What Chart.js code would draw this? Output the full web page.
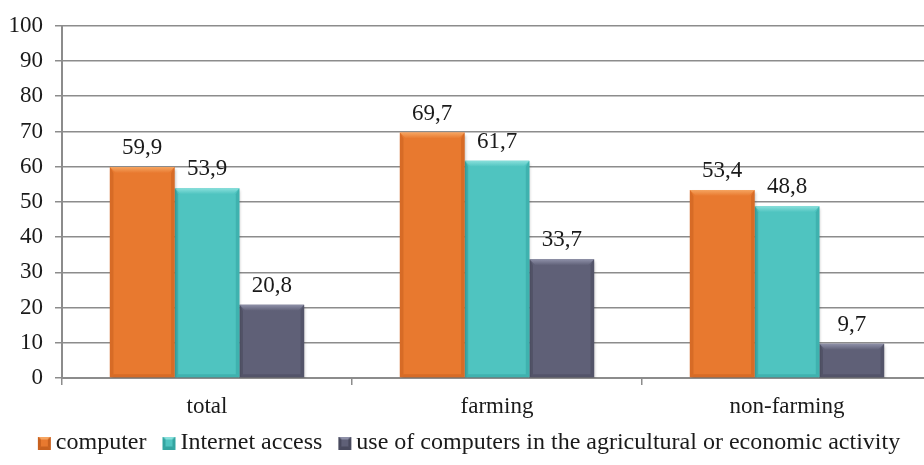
<!DOCTYPE html>
<html lang="en">
<head>
  <meta charset="UTF-8" />
  <title>Computer and Internet use</title>
  <script src="https://cdn.jsdelivr.net/npm/chart.js"></script>
  <style>
    html, body {
      margin: 0;
      padding: 0;
      background: #fff;
      overflow: hidden;
    }
    .wrap {
      width: 934px;
      height: 465px;
    }
  </style>
</head>
<body>
  <div class="wrap">
    <canvas id="usageChart" width="934" height="465"></canvas>
  </div>

  <script>
    const categories = ["total", "farming", "non-farming"];
    const computer = [59.9, 69.7, 53.4];
    const internetAccess = [53.9, 61.7, 48.8];
    const agriUse = [20.8, 33.7, 9.7];
    const yTicks = [0, 10, 20, 30, 40, 50, 60, 70, 80, 90, 100];

    const FONT = "'Liberation Serif', 'Times New Roman', serif";
    const GRID = "#8c8c8c";
    const TEXT = "#1a1a1a";

    // base, light (top bevel), dark (side bevels)
    const palette = [
      { base: "#e8792f", light: "#f6a561", dark: "#c8611f" },
      { base: "#4fc4c0", light: "#8ae0dc", dark: "#33a4a0" },
      { base: "#5f6077", light: "#8e90a8", dark: "#494a5e" }
    ];

    // legend marker: beveled square sitting at the right end of a 30px strip
    function legendSwatch(c) {
      const cv = document.createElement("canvas");
      cv.width = 30; cv.height = 13;
      const g = cv.getContext("2d");
      g.translate(15, 0);
      g.fillStyle = c.base; g.fillRect(0, 0, 13, 13);
      g.fillStyle = c.light;
      g.beginPath(); g.moveTo(0, 0); g.lineTo(13, 0); g.lineTo(10, 3); g.lineTo(3, 3); g.fill();
      g.fillStyle = c.dark;
      g.beginPath(); g.moveTo(0, 0); g.lineTo(3, 3); g.lineTo(3, 10); g.lineTo(0, 13); g.fill();
      g.beginPath(); g.moveTo(13, 0); g.lineTo(10, 3); g.lineTo(10, 10); g.lineTo(13, 13); g.fill();
      g.beginPath(); g.moveTo(0, 13); g.lineTo(3, 10); g.lineTo(10, 10); g.lineTo(13, 13); g.fill();
      return cv;
    }

    // beveled edges and soft shadow on every bar, value labels on top
    const bevelPlugin = {
      id: "bevel",
      beforeDatasetDraw(chart) {
        const ctx = chart.ctx;
        ctx.save();
        ctx.shadowColor = "rgba(0,0,0,0.28)";
        ctx.shadowBlur = 3;
        ctx.shadowOffsetX = 1;
        ctx.shadowOffsetY = 2;
      },
      afterDatasetDraw(chart, args) {
        const ctx = chart.ctx;
        ctx.restore();
        const c = palette[args.index];
        args.meta.data.forEach(bar => {
          const p = bar.getProps(["x", "y", "base", "width"], true);
          const l = p.x - p.width / 2, r = p.x + p.width / 2;
          const t = p.y, b = p.base;
          const s = Math.min(6, (b - t) / 2);
          ctx.save();
          const grad = ctx.createLinearGradient(0, t, 0, t + s);
          grad.addColorStop(0, c.light);
          grad.addColorStop(1, c.base);
          ctx.fillStyle = grad;
          ctx.beginPath();
          ctx.moveTo(l, t); ctx.lineTo(r, t); ctx.lineTo(r - s, t + s); ctx.lineTo(l + s, t + s);
          ctx.closePath(); ctx.fill();
          ctx.fillStyle = c.dark;
          ctx.globalAlpha = 0.55;
          ctx.beginPath();
          ctx.moveTo(l, t); ctx.lineTo(l + s * 0.6, t + s); ctx.lineTo(l + s * 0.6, b - s * 0.5); ctx.lineTo(l, b);
          ctx.closePath(); ctx.fill();
          ctx.beginPath();
          ctx.moveTo(r, t); ctx.lineTo(r - s * 0.6, t + s); ctx.lineTo(r - s * 0.6, b - s * 0.5); ctx.lineTo(r, b);
          ctx.closePath(); ctx.fill();
          ctx.beginPath();
          ctx.moveTo(l, b); ctx.lineTo(l + s * 0.6, b - s * 0.5); ctx.lineTo(r - s * 0.6, b - s * 0.5); ctx.lineTo(r, b);
          ctx.closePath(); ctx.fill();
          ctx.restore();
        });
      },
      afterDatasetsDraw(chart) {
        const ctx = chart.ctx;
        ctx.save();
        ctx.font = "23px " + FONT;
        ctx.fillStyle = TEXT;
        ctx.textAlign = "center";
        ctx.textBaseline = "alphabetic";
        chart.data.datasets.forEach((ds, i) => {
          chart.getDatasetMeta(i).data.forEach((bar, j) => {
            const txt = ds.data[j].toFixed(1).replace(".", ",");
            ctx.fillText(txt, bar.x, bar.y - 13);
          });
        });
        ctx.restore();
      }
    };

    const datasets = [
      { label: "computer", data: computer },
      { label: "Internet access", data: internetAccess },
      { label: "use of computers in the agricultural or economic activity", data: agriUse }
    ].map((d, i) => ({
      ...d,
      backgroundColor: palette[i].base,
      borderWidth: 0,
      pointStyle: legendSwatch(palette[i]),
      categoryPercentage: 0.67,
      barPercentage: 1.0
    }));

    new Chart(document.getElementById("usageChart"), {
      type: "bar",
      data: { labels: categories, datasets },
      plugins: [bevelPlugin],
      options: {
        responsive: false,
        animation: false,
        layout: { padding: { top: 12, right: 2, left: 0, bottom: 0 } },
        scales: {
          x: {
            afterFit(scale) { scale.height = 43; },
            grid: {
              offset: true,
              drawOnChartArea: false,
              drawTicks: true,
              tickLength: 7,
              color: GRID,
              lineWidth: 1.5
            },
            border: { display: true, color: GRID, width: 2 },
            ticks: {
              color: TEXT,
              font: { family: FONT, size: 23 },
              padding: 8
            }
          },
          y: {
            min: 0,
            max: 100,
            afterBuildTicks(scale) {
              scale.ticks = yTicks.map(v => ({ value: v }));
            },
            afterFit(scale) { scale.width = 62; },
            grid: {
              color: GRID,
              lineWidth: 1.5,
              tickLength: 7
            },
            border: { display: true, color: GRID, width: 2 },
            ticks: {
              color: TEXT,
              font: { family: FONT, size: 23 },
              padding: 12
            }
          }
        },
        plugins: {
          legend: {
            position: "bottom",
            labels: {
              usePointStyle: true,
              color: TEXT,
              font: { family: FONT, size: 24 },
              boxWidth: 12,
              boxHeight: 13,
              padding: 10
            }
          },
          tooltip: { enabled: false }
        }
      }
    });
  </script>
</body>
</html>
